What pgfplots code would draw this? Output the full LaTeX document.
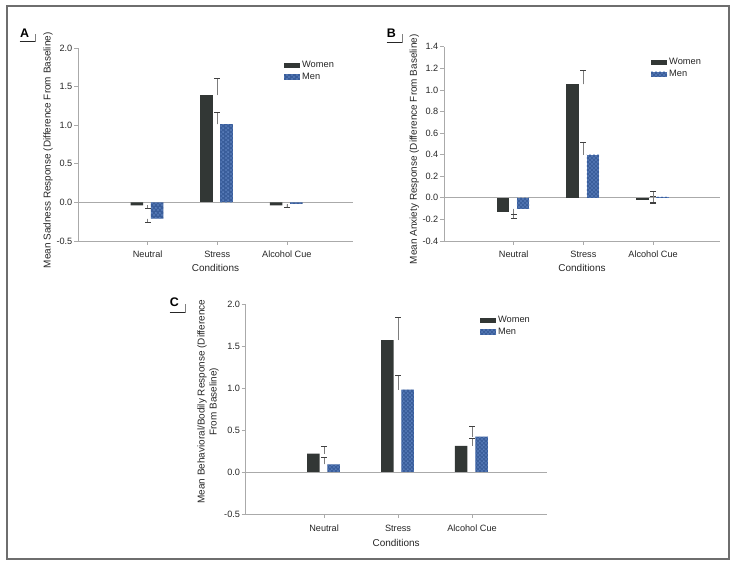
\documentclass[border=0pt]{standalone}
\usepackage{fontspec}
\setmainfont{Liberation Sans}
\usepackage{pgfplots}
\pgfplotsset{compat=1.18}
\usetikzlibrary{patterns}

\definecolor{womencol}{RGB}{50,55,53}
\definecolor{mencol}{RGB}{58,94,155}
\definecolor{mendot}{RGB}{100,136,196}
\definecolor{axgray}{RGB}{170,170,170}
\definecolor{errgray}{RGB}{125,125,125}
\definecolor{framegray}{RGB}{110,110,110}

% checker of light dots on the men's bars
\pgfdeclarepatternformonly{checkdots}{\pgfpointorigin}{\pgfpoint{4.4bp}{4.4bp}}{\pgfpoint{4.4bp}{4.4bp}}{
  \pgfpathcircle{\pgfpoint{1.1bp}{1.1bp}}{1.0bp}
  \pgfpathcircle{\pgfpoint{3.3bp}{3.3bp}}{1.0bp}
  \pgfusepath{fill}}

\pgfplotsset{
  panel/.style={
    scale only axis, anchor=south west,
    axis x line=bottom, axis y line=left,
    axis line style={axgray, line width=0.7bp, -},
    tick style={axgray, line width=0.7bp},
    major tick length=4bp, tick align=outside,
    xtick={1,2,3}, xticklabels={Neutral,Stress,Alcohol Cue},
    ticklabel style={font=\fontsize{9.2}{10}\selectfont, text=black!85},
    xticklabel style={yshift=-2.5bp},
    yticklabel style={inner sep=1.5bp,
      /pgf/number format/fixed, /pgf/number format/fixed zerofill,
      /pgf/number format/precision=1},
    /pgf/number format/assume math mode=true,
    label style={font=\fontsize{10}{12}\selectfont, text=black!85},
    xlabel={Conditions},
    extra y ticks={0}, extra y tick labels={},
    extra y tick style={grid=major, major grid style={axgray, line width=0.7bp},
      tick style={draw=none}},
    legend style={draw=none, fill=none, inner sep=0pt, row sep=0bp,
      font=\fontsize{9.3}{10}\selectfont, text=black!85,
      cells={anchor=west}},
    legend image code/.code={\fill[##1] (0bp,-2.6bp) rectangle (16bp,2.6bp);},
  },
  women/.style={ybar, fill=womencol, draw=none, bar width=12.5bp, bar shift=-10.8bp},
  men/.style={ybar, fill=mencol, draw=none,
    postaction={pattern=checkdots, pattern color=mendot},
    bar width=12.5bp, bar shift=9.5bp},
  errs/.style={error bars/y dir=#1, error bars/y explicit,
    error bars/error bar style={errgray, line width=0.7bp},
    error bars/error mark options={rotate=90, mark size=3bp, black!75, line width=0.7bp}},
}

\begin{document}
\begin{tikzpicture}
\useasboundingbox (0bp,0bp) rectangle (737bp,568bp);
\draw[framegray, line width=1.4bp] (7bp,9bp) rectangle (729bp,562bp);

% panel letters
\node[font=\fontsize{12.5}{13}\selectfont\bfseries] at (24.5bp,534.7bp) {A};
\draw[black!85, line width=1bp] (19.5bp,526.3bp) -- (35bp,526.3bp);
\draw[gray, line width=0.6bp] (35bp,526.3bp) -- (35bp,534bp);
\node[font=\fontsize{12.5}{13}\selectfont\bfseries] at (391.3bp,534.3bp) {B};
\draw[black!85, line width=1bp] (386.5bp,525.3bp) -- (402.7bp,525.3bp);
\draw[gray, line width=0.6bp] (402.7bp,525.3bp) -- (402.7bp,534bp);
\node[font=\fontsize{12.5}{13}\selectfont\bfseries] at (174.3bp,265.5bp) {C};
\draw[black!85, line width=1bp] (169.5bp,255bp) -- (185.5bp,255bp);
\draw[gray, line width=0.6bp] (185.5bp,255bp) -- (185.5bp,264bp);

% A: sadness
\begin{axis}[panel, at={(78bp,327bp)}, width=275bp, height=193bp,
  xmin=0, xmax=3.95, ymin=-0.5, ymax=2, ytick={-0.5,0,...,2},
  ylabel={Mean Sadness Response (Difference From Baseline)},
  ylabel style={at={(axis description cs:-0.109,0.47)}, anchor=center},
  xlabel style={at={(axis description cs:0.5,-0.14)}, anchor=center},
  legend style={at={(axis description cs:0.749,0.943)}, anchor=north west}]
\addplot[women, errs=plus] coordinates {(2,1.39) +- (0,0.22)};
\addlegendentry{Women}
\addplot[men, errs=plus] coordinates {(2,1.01) +- (0,0.15)};
\addlegendentry{Men}
\addplot[women, errs=minus, forget plot] coordinates {(1,-0.04) +- (0,0.04) (3,-0.04) +- (0,0.02)};
\addplot[men, errs=minus, forget plot] coordinates {(1,-0.21) +- (0,0.05) (3,-0.02) +- (0,0.05)};
\end{axis}

% B: anxiety
\begin{axis}[panel, at={(444bp,327bp)}, width=276bp, height=194.3bp,
  xmin=0, xmax=3.96, ymin=-0.4, ymax=1.4, ytick={-0.4,-0.2,...,1.4},
  ylabel={Mean Anxiety Response (Difference From Baseline)},
  ylabel style={at={(axis description cs:-0.108,0.472)}, anchor=center},
  xlabel style={at={(axis description cs:0.5,-0.14)}, anchor=center},
  legend style={at={(axis description cs:0.75,0.95)}, anchor=north west}]
\addplot[women, errs=plus] coordinates {(2,1.05) +- (0,0.13)};
\addlegendentry{Women}
\addplot[men, errs=plus] coordinates {(2,0.40) +- (0,0.11)};
\addlegendentry{Men}
\addplot[women, errs=minus, forget plot] coordinates {(1,-0.13) +- (0,0.06)};
\addplot[men, errs=minus, forget plot] coordinates {(1,-0.10) +- (0,0.05)};
\addplot[women, errs=both, forget plot] coordinates {(3,-0.02) +- (0,0.035)};
\addplot[men, errs=both, forget plot] coordinates {(3,0.01) +- (0,0.05)};
\end{axis}

% C: behavioral/bodily
\begin{axis}[panel, at={(245.7bp,54bp)}, width=301bp, height=210bp,
  xmin=-0.06, xmax=4.01, ymin=-0.5, ymax=2, ytick={-0.5,0,...,2},
  xticklabel style={yshift=-1bp},
  ylabel={Mean Behavioral/Bodily Response (Difference\\From Baseline)},
  ylabel style={at={(axis description cs:-0.125,0.535)}, anchor=center, align=center},
  xlabel style={at={(axis description cs:0.5,-0.137)}, anchor=center},
  legend style={at={(axis description cs:0.778,0.952)}, anchor=north west}]
\addplot[women, errs=plus] coordinates {(1,0.22) +- (0,0.08) (2,1.57) +- (0,0.27) (3,0.31) +- (0,0.09)};
\addlegendentry{Women}
\addplot[men, errs=plus] coordinates {(1,0.09) +- (0,0.08) (2,0.98) +- (0,0.17) (3,0.42) +- (0,0.12)};
\addlegendentry{Men}
\end{axis}
\end{tikzpicture}
\end{document}
